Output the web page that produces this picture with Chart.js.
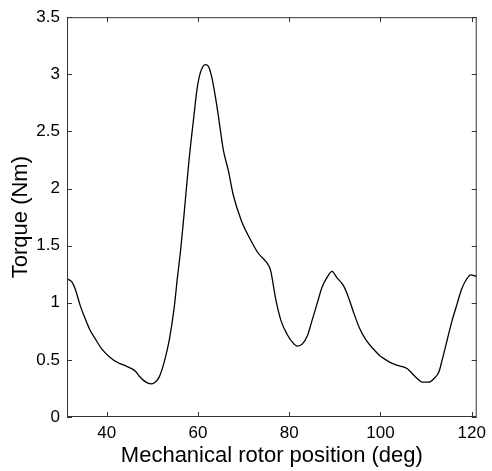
<!DOCTYPE html>
<html lang="en">
<head>
  <meta charset="UTF-8" />
  <title>Torque vs rotor position</title>
  <script src="https://cdn.jsdelivr.net/npm/chart.js"></script>
  <style>
    html, body { margin: 0; padding: 0; background: #fff; }
    #wrap { width: 492px; height: 471px; }
  </style>
</head>
<body>
  <div id="wrap"><canvas id="torque-chart" width="492" height="471"></canvas></div>
  <script>
    // rotor position (deg) and torque (Nm)
    const rotorPos = [31.35, 32.4, 33.1, 34.2, 35.3, 36.4, 37.5, 38.9, 40.7, 42.5, 44.3, 46.3, 47.2, 48.6, 49.7, 50.4,
      51.5, 52.6, 53.7, 54.8, 55.5, 56.2, 56.9, 58.0, 59.1, 59.8, 60.5, 61.6, 62.3, 63.0, 63.8, 64.5, 65.2, 65.6, 66.7,
      67.7, 69.5, 71.4, 73.1, 75.7, 76.0, 77.1, 78.2, 79.6, 80.7, 81.8, 82.9, 84.0, 85.0, 86.1, 87.2, 88.3, 89.4,
      90.4, 91.9, 93.0, 94.1, 95.5, 96.9, 98.4, 99.8, 101.2, 102.0, 103.8, 105.9, 107.0, 108.1, 109.2, 110.6, 111.7,
      112.8, 113.5, 114.6, 115.7, 116.8, 117.8, 118.9, 119.8, 121.1];
    const torque = [1.21, 1.18, 1.12, 0.975, 0.86, 0.757, 0.684, 0.597, 0.524, 0.475, 0.445, 0.40, 0.355, 0.305, 0.29, 0.297,
      0.349, 0.48, 0.67, 0.96, 1.22, 1.46, 1.75, 2.23, 2.63, 2.87, 3.01, 3.085, 3.07, 2.98, 2.81, 2.63, 2.43, 2.33, 2.15,
      1.95, 1.72, 1.56, 1.44, 1.31, 1.27, 1.02, 0.844, 0.72, 0.655, 0.62, 0.64, 0.713, 0.844, 0.99, 1.135, 1.222, 1.274,
      1.222, 1.15, 1.047, 0.917, 0.77, 0.67, 0.597, 0.539, 0.50, 0.48, 0.451, 0.422, 0.379, 0.335, 0.305, 0.305, 0.335,
      0.393, 0.495, 0.67, 0.844, 0.99, 1.12, 1.208, 1.245, 1.23];

    const xTicks = [40, 60, 80, 100, 120];
    const yTicks = [0, 0.5, 1, 1.5, 2, 2.5, 3, 3.5];
    const xRange = [31.3, 121.1];
    const yRange = [0, 3.5];

    const points = rotorPos.map((x, i) => ({ x: x, y: torque[i] }));

    // matlab style box with inward ticks on all sides
    const boxPlugin = {
      id: 'box',
      afterDraw(chart) {
        const { ctx, chartArea: a, scales } = chart;
        const len = 5;
        ctx.save();
        ctx.strokeStyle = '#333';
        ctx.lineWidth = 1;
        ctx.strokeRect(a.left + 0.5, a.top + 0.5, a.right - a.left - 1, a.bottom - a.top - 1);
        ctx.beginPath();
        xTicks.forEach(v => {
          const px = Math.round(scales.x.getPixelForValue(v)) + 0.5;
          ctx.moveTo(px, a.bottom); ctx.lineTo(px, a.bottom - len);
          ctx.moveTo(px, a.top); ctx.lineTo(px, a.top + len);
        });
        yTicks.forEach(v => {
          const py = Math.round(scales.y.getPixelForValue(v)) + 0.5;
          ctx.moveTo(a.left, py); ctx.lineTo(a.left + len, py);
          ctx.moveTo(a.right, py); ctx.lineTo(a.right - len, py);
        });
        ctx.stroke();
        ctx.restore();
      }
    };

    const fontFamily = '"Liberation Sans", Arial, sans-serif';

    new Chart(document.getElementById('torque-chart'), {
      type: 'line',
      data: {
        datasets: [{
          data: points,
          borderColor: '#000',
          borderWidth: 1.3,
          pointRadius: 0,
          fill: false,
          cubicInterpolationMode: 'monotone'
        }]
      },
      options: {
        responsive: false,
        animation: false,
        layout: { padding: { top: 16, right: 10, left: 0, bottom: 0 } },
        plugins: { legend: { display: false }, tooltip: { enabled: false } },
        scales: {
          x: {
            type: 'linear',
            min: xRange[0],
            max: xRange[1],
            afterBuildTicks: s => { s.ticks = xTicks.map(v => ({ value: v })); },
            afterFit: s => { s.height = 54; },
            grid: { display: false, drawTicks: false },
            border: { display: false },
            ticks: { color: '#000', padding: 6, font: { family: fontFamily, size: 17 }, callback: v => String(v) },
            title: { display: true, text: 'Mechanical rotor position (deg)', color: '#000',
              font: { family: fontFamily, size: 22 }, padding: { top: 0, bottom: 2 } }
          },
          y: {
            type: 'linear',
            min: yRange[0],
            max: yRange[1],
            afterBuildTicks: s => { s.ticks = yTicks.map(v => ({ value: v })); },
            afterFit: s => { s.width = 67; },
            grid: { display: false, drawTicks: false },
            border: { display: false },
            ticks: { color: '#000', padding: 7, font: { family: fontFamily, size: 17 }, callback: v => String(v) },
            title: { display: true, text: 'Torque (Nm)', color: '#000',
              font: { family: fontFamily, size: 22 }, padding: { top: 8, bottom: 0 } }
          }
        }
      },
      plugins: [boxPlugin]
    });
  </script>
</body>
</html>
